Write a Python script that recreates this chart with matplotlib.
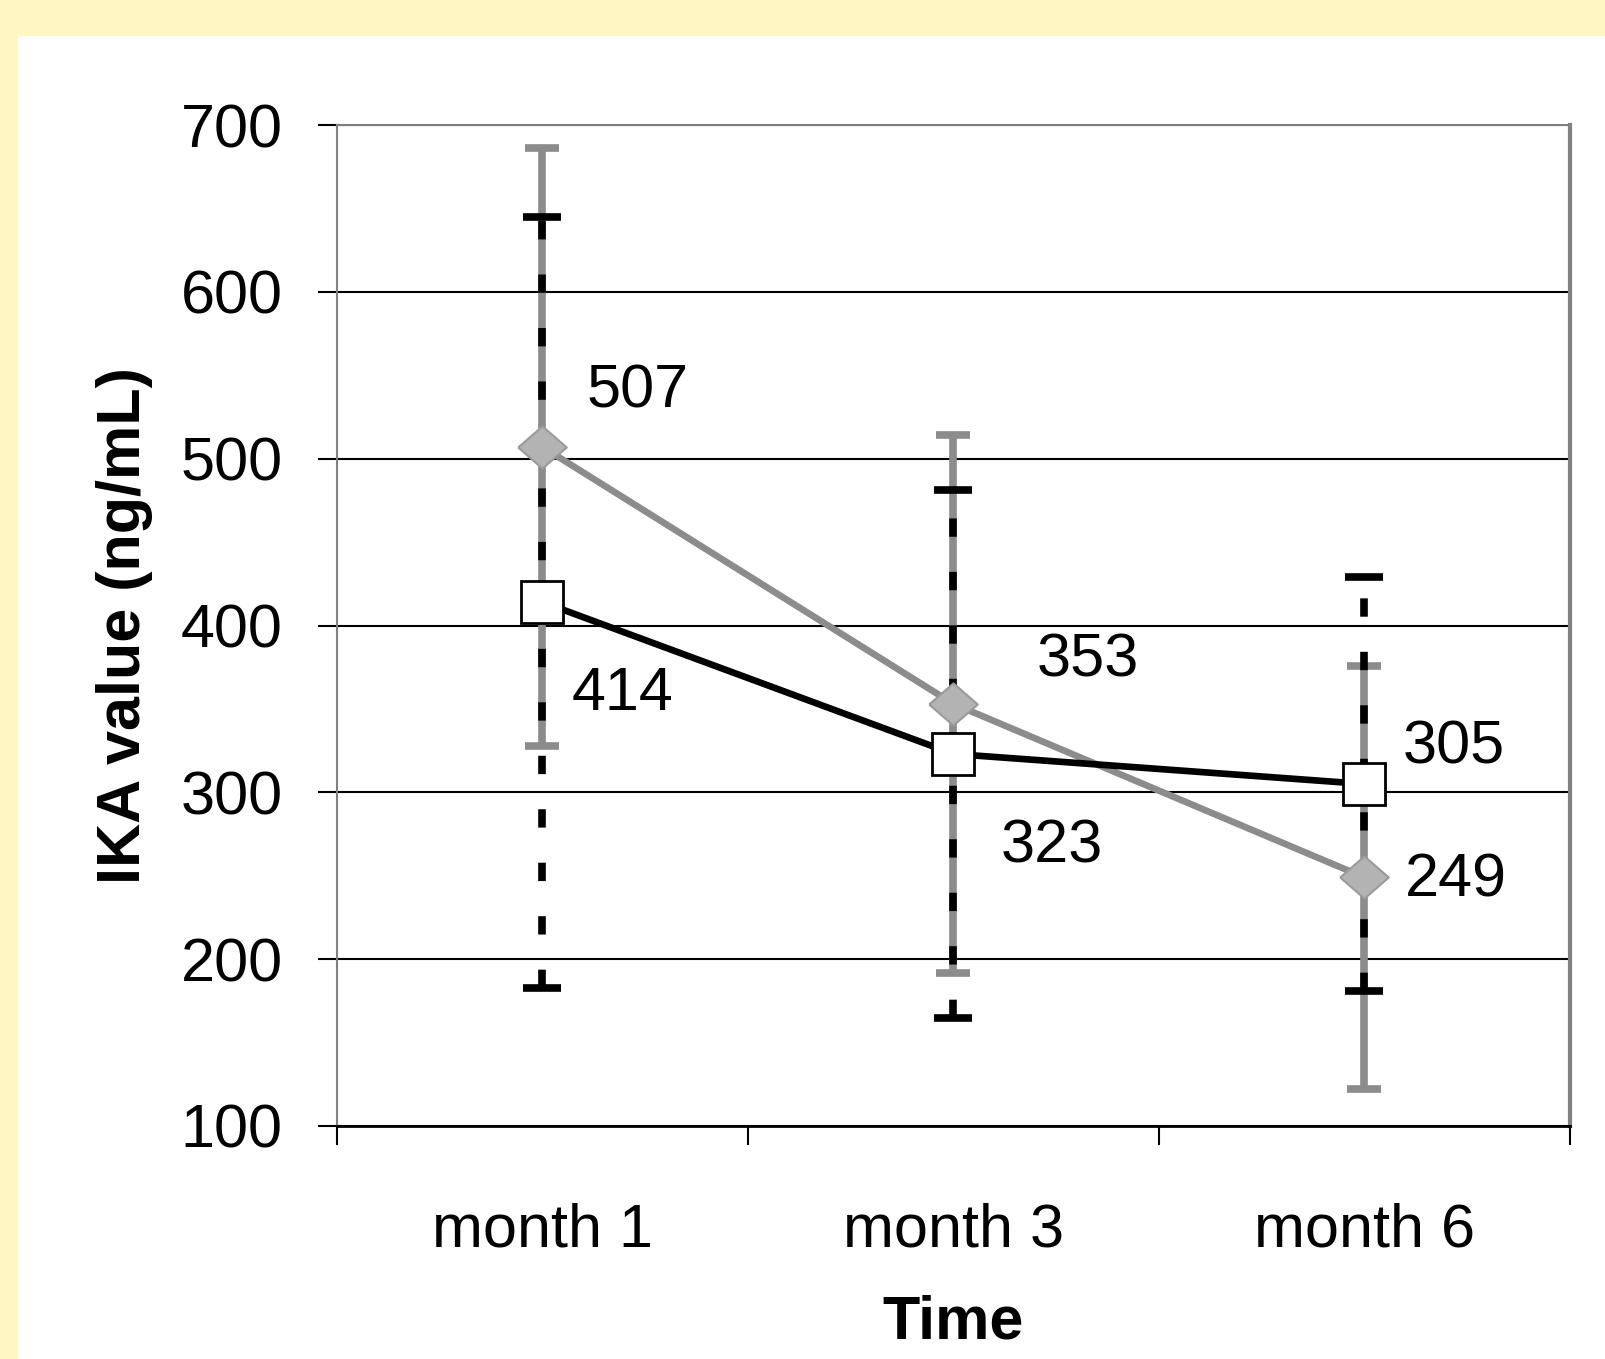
import numpy as np
import matplotlib
matplotlib.use("Agg")
import matplotlib.pyplot as plt

plt.rcParams['font.family'] = ['Liberation Sans', 'DejaVu Sans']

# 数据
months = ["month 1", "month 3", "month 6"]
grey_mean = [507, 353, 249]
grey_err = [179, 161, 127]
black_mean = [414, 323, 305]
black_err = [231, 158, 124]

# 标签偏移 (像素)
grey_offsets = [(95, 55), (134, 43), (91, -4)]
black_offsets = [(80, -92), (98, -93), (89, 36)]

fig = plt.figure(figsize=(16.06, 13.59), dpi=100)
fig.patch.set_facecolor('#fff6c4')
# 白色底板
fig.patches.append(plt.Rectangle((18 / 1606, 0), 1, 1 - 36 / 1359,
                                 transform=fig.transFigure, facecolor='white',
                                 edgecolor='none', zorder=-10))

ax = fig.add_axes([337 / 1606, 1 - 1126 / 1359, 1233 / 1606, 1001 / 1359])
ax.set_facecolor('white')

x = np.arange(len(months))

# 误差线
ax.errorbar(x, grey_mean, yerr=grey_err, fmt='none', ecolor='#8c8c8c',
            elinewidth=5.5, capsize=12, capthick=5.5, zorder=3)
eb = ax.errorbar(x, black_mean, yerr=black_err, fmt='none', ecolor='black',
                 elinewidth=5.5, capsize=14, capthick=5.5, zorder=4)
for lc in eb[2]:
    lc.set_linestyle((0, (2.4, 4.6)))

diamond = [(-1, 0), (0, 0.87), (1, 0), (0, -0.87), (-1, 0)]
ax.plot(x, grey_mean, color='#8c8c8c', lw=4.8, marker=diamond, ms=35,
        markerfacecolor='#b3b3b3', markeredgecolor='#9a9a9a', mew=1.5, zorder=5)
ax.plot(x, black_mean, color='black', lw=4.8, marker='s', ms=30,
        markerfacecolor='white', markeredgecolor='black', mew=2, zorder=6)

for xi, v, off in zip(x, grey_mean, grey_offsets):
    ax.annotate(str(v), (xi, v), xytext=off, textcoords='offset pixels',
                ha='center', va='center', fontsize=44, zorder=7)
for xi, v, off in zip(x, black_mean, black_offsets):
    ax.annotate(str(v), (xi, v), xytext=off, textcoords='offset pixels',
                ha='center', va='center', fontsize=44, zorder=7)

ax.set_xlim(-0.5, 2.5)
ax.set_ylim(100, 700)
ax.set_yticks(np.arange(100, 701, 100))
ax.tick_params(axis='y', labelsize=44, length=14, width=1.5, pad=25, color='black')
ax.set_xticks(x)
ax.set_xticklabels(months)
ax.set_xticks([-0.5, 0.5, 1.5, 2.5], minor=True)
ax.tick_params(axis='x', which='major', length=0, labelsize=44, pad=55)
ax.tick_params(axis='x', which='minor', length=14, width=1.5, color='black')

ax.yaxis.grid(True, color='black', lw=1.5)
ax.set_axisbelow(True)
for s in ['left', 'top']:
    ax.spines[s].set_color('#808080')
    ax.spines[s].set_linewidth(1.5)
ax.spines['right'].set_color('#808080')
ax.spines['right'].set_linewidth(3)
ax.spines['bottom'].set_color('black')
ax.spines['bottom'].set_linewidth(2)

ax.set_ylabel('IKA value (ng/mL)', fontsize=44, fontweight='bold', labelpad=20)
ax.set_xlabel('Time', fontsize=44, fontweight='bold', labelpad=25)

fig.savefig('out.png', dpi=100)
